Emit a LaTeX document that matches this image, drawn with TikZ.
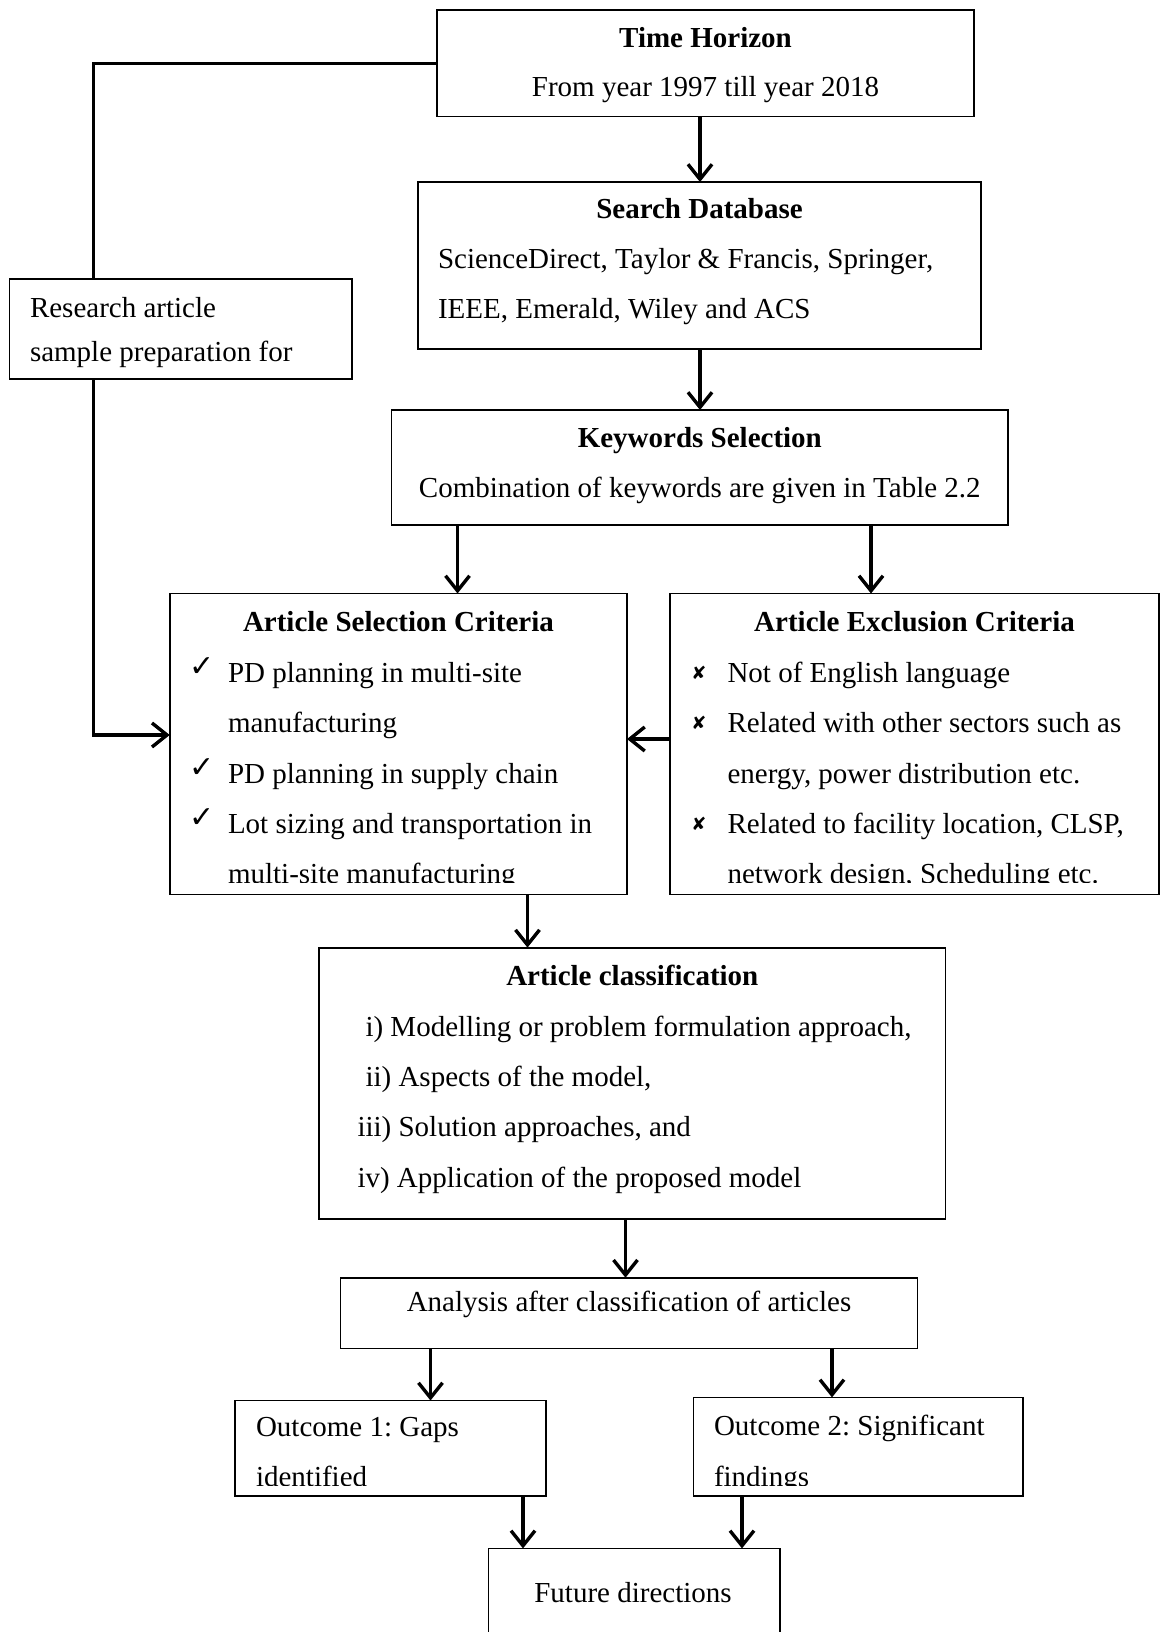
\documentclass[tikz,border=0pt]{standalone}
\usepackage{fontspec}
\setmainfont{Liberation Serif}
\newfontfamily\symfont{DejaVu Sans}
\usetikzlibrary{arrows.meta}

\begin{document}
\begin{tikzpicture}[x=1pt,y=-1pt,
  box/.style={draw, line width=1.8pt, anchor=north west, inner sep=0pt, outer sep=0pt},
  conn/.style={line width=3.4pt},
  arr/.style={conn, -{Straight Barb[length=15pt,width=24pt]}},
  txt/.style={inner sep=0pt, outer sep=0pt, font=\fontsize{29}{35}\selectfont\frenchspacing},
  ttl/.style={inner sep=0pt, outer sep=0pt, font=\fontsize{29}{35}\selectfont\bfseries\frenchspacing},
  chk/.style={inner sep=0pt, outer sep=0pt, font=\symfont\fontsize{30}{30}\selectfont},
  crs/.style={inner sep=0pt, outer sep=0pt, font=\symfont\fontsize{18}{18}\selectfont},
]
\useasboundingbox (0,0) rectangle (1161,1632);
\fill[white] (0,0) rectangle (1161,1632);
\clip (0,0) rectangle (1161,1632);

% ---- boxes ----
\node[box, minimum width=537pt,   minimum height=106.2pt] (time)      at (437,10.4)    {};
\node[box, minimum width=342.6pt, minimum height=100pt]   (research)  at (9.4,279)     {};
\node[box, minimum width=563.4pt, minimum height=167pt]   (search)    at (417.6,182)   {};
\node[box, minimum width=616.5pt, minimum height=115pt]   (keywords)  at (391.5,410)   {};
\node[box, minimum width=457.3pt, minimum height=301pt]   (selection) at (169.7,593.5) {};
\node[box, minimum width=489.4pt, minimum height=301pt]   (exclusion) at (669.6,593.5) {};
\node[box, minimum width=626.9pt, minimum height=271.4pt] (classif)   at (318.6,947.6) {};
\node[box, minimum width=576.9pt, minimum height=70.8pt]  (analysis)  at (340.5,1277.7){};
\node[box, minimum width=310.3pt, minimum height=95.8pt]  (out1)      at (235.3,1400.5){};
\node[box, minimum width=329.1pt, minimum height=98.9pt]  (out2)      at (693.5,1397.4){};
\node[box, minimum width=291.6pt, minimum height=111.6pt] (future)    at (488.4,1548.4){};

% ---- texts ----
\node[ttl, anchor=base] (timeT)  at (705.5,47.5) {Time Horizon};
\node[txt, anchor=base] (timeS)  at (705.5,97)   {From year 1997 till year 2018};

\node[txt, anchor=base west] (res1) at (30,317) {Research article};
\node[txt, anchor=base west] (res2) at (30,361) {sample preparation for};

\node[ttl, anchor=base] (searchT) at (699.5,218.5) {Search Database};
\node[txt, anchor=base west] (search1) at (438,268.5) {ScienceDirect, Taylor \& Francis, Springer,};
\node[txt, anchor=base west] (search2) at (438,318.5) {IEEE, Emerald, Wiley and ACS};

\node[ttl, anchor=base] (keyT) at (699.8,447.5) {Keywords Selection};
\node[txt, anchor=base] (key1) at (699.8,497.5) {Combination of keywords are given in Table 2.2};

\node[ttl, anchor=base] (selT) at (398.4,631.7) {Article Selection Criteria};
\node[chk] (selC1) at (202.5,667) {✓};
\node[txt, anchor=base west] (sel1) at (228,682)   {PD planning in multi-site};
\node[txt, anchor=base west] (sel2) at (228,732.5) {manufacturing};
\node[chk] (selC2) at (202.5,768) {✓};
\node[txt, anchor=base west] (sel3) at (228,783)   {PD planning in supply chain};
\node[chk] (selC3) at (202.5,818) {✓};
\node[txt, anchor=base west] (sel4) at (228,833)   {Lot sizing and transportation in};

\node[ttl, anchor=base] (excT) at (914.5,631.7) {Article Exclusion Criteria};
\node[crs] (excX1) at (699,672.5) {✘};
\node[txt, anchor=base west] (exc1) at (727.5,682)   {Not of English language};
\node[crs] (excX2) at (699,723) {✘};
\node[txt, anchor=base west] (exc2) at (727.5,732.5) {Related with other sectors such as};
\node[txt, anchor=base west] (exc3) at (727.5,783)   {energy, power distribution etc.};
\node[crs] (excX3) at (699,823.5) {✘};
\node[txt, anchor=base west] (exc4) at (727.5,833)   {Related to facility location, CLSP,};

% last lines are cut off by the lower edge of their boxes
\coordinate (cutA) at (0,882);
\begin{scope}
  \clip (selection.north west) rectangle (exclusion.east |- cutA);
  \node[txt, anchor=base west] (sel5) at (228,883.5)   {multi-site manufacturing};
  \node[txt, anchor=base west] (exc5) at (727.5,883.5) {network design, Scheduling etc.};
\end{scope}

\node[ttl, anchor=base] (clsT) at (632.3,985.5) {Article classification};
\node[txt, anchor=base west] (cls1) at (365.5,1036)   {i) Modelling or problem formulation approach,};
\node[txt, anchor=base west] (cls2) at (365.5,1086)   {ii) Aspects of the model,};
\node[txt, anchor=base west] (cls3) at (357.5,1136.5) {iii) Solution approaches, and};
\node[txt, anchor=base west] (cls4) at (357.5,1187)   {iv) Application of the proposed model};

\node[txt, anchor=base] (anaT) at (629,1311) {Analysis after classification of articles};

\node[txt, anchor=base west] (o1a) at (256,1436.5) {Outcome 1: Gaps};
\node[txt, anchor=base west] (o2a) at (714,1435)   {Outcome 2: Significant};
\coordinate (cutB) at (0,1485);
\begin{scope}
  \clip (out1.north west) rectangle (out2.east |- cutB);
  \node[txt, anchor=base west] (o1b) at (256,1486.5) {identified};
  \node[txt, anchor=base west] (o2b) at (714,1486.5) {findings};
\end{scope}

\node[txt, anchor=base] (futT) at (633,1602) {Future directions};

% ---- connectors ----
\coordinate (xL) at (93.5,0);
\coordinate (yL) at (0,735);
\coordinate (yM) at (0,739);
\coordinate (xA) at (700,0);
\coordinate (xB) at (457.5,0);
\coordinate (xC) at (871,0);
\coordinate (xD) at (527.5,0);
\coordinate (xE) at (625.5,0);
\coordinate (xF) at (430.5,0);
\coordinate (xG) at (832,0);
\coordinate (xH) at (523,0);
\coordinate (xI) at (742,0);

\draw[conn] (time.west) -| (research.north -| xL);
\draw[arr] (research.south -| xL) |- (selection.west |- yL);
\draw[arr] (exclusion.west |- yM) -- (selection.east |- yM);
\draw[arr] (time.south -| xA) -- (search.north -| xA);
\draw[arr] (search.south -| xA) -- (keywords.north -| xA);
\draw[arr] (keywords.south -| xB) -- (selection.north -| xB);
\draw[arr] (keywords.south -| xC) -- (exclusion.north -| xC);
\draw[arr] (selection.south -| xD) -- (classif.north -| xD);
\draw[arr] (classif.south -| xE) -- (analysis.north -| xE);
\draw[arr] (analysis.south -| xF) -- (out1.north -| xF);
\draw[arr] (analysis.south -| xG) -- (out2.north -| xG);
\draw[arr] (out1.south -| xH) -- (future.north -| xH);
\draw[arr] (out2.south -| xI) -- (future.north -| xI);
\end{tikzpicture}
\end{document}
